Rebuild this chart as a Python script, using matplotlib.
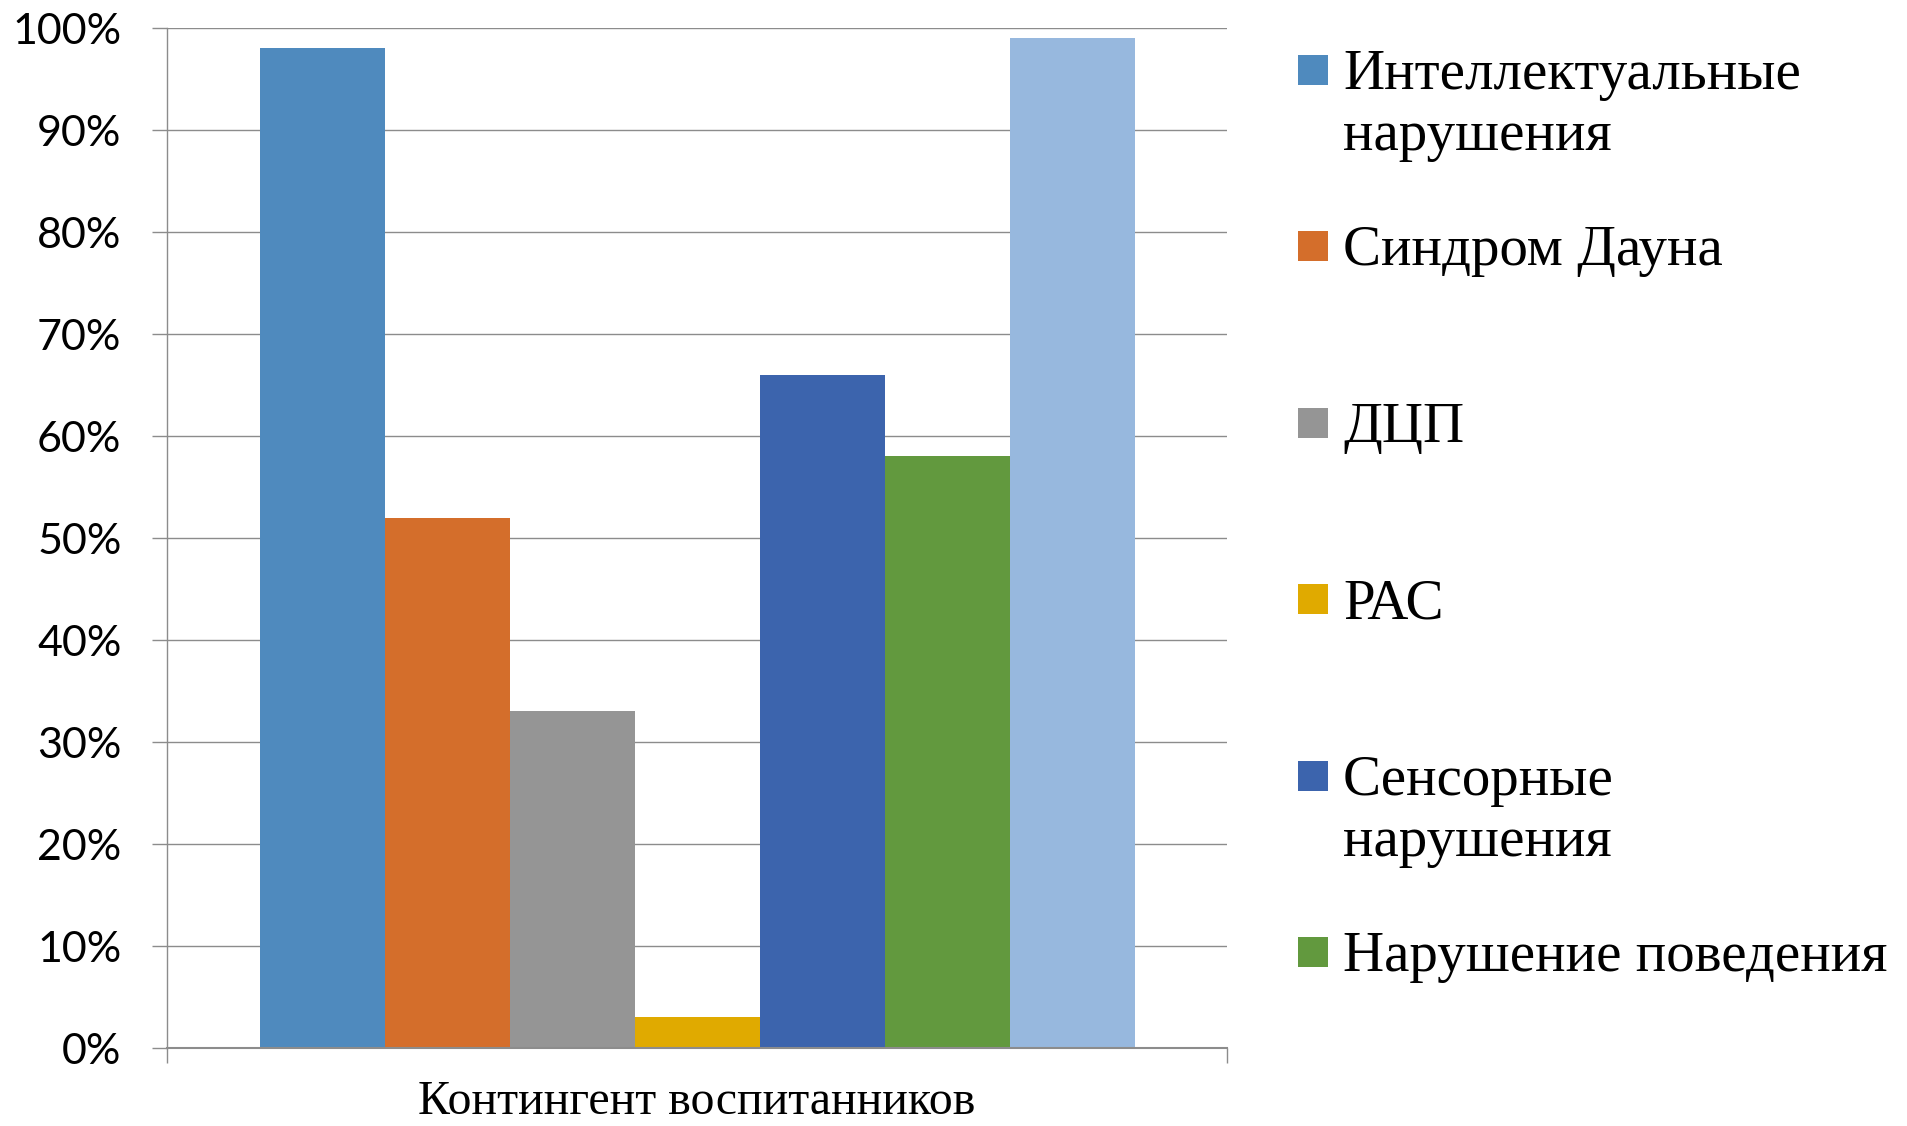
import matplotlib
matplotlib.use("Agg")
import matplotlib.pyplot as plt
from matplotlib.patches import Rectangle
from matplotlib.ticker import PercentFormatter

# data
category = "Контингент воспитанников"
values = [98, 52, 33, 3, 66, 58, 99]
colors = ["#4F8ABE", "#D46E2B", "#959595", "#E0AA00", "#3C64AD", "#62993E", "#97B8DE"]
legend_labels = [
    "Интеллектуальные\nнарушения",
    "Синдром Дауна",
    "ДЦП",
    "РАС",
    "Сенсорные\nнарушения",
    "Нарушение поведения",
]
yticks = [0, 10, 20, 30, 40, 50, 60, 70, 80, 90, 100]

W, H = 1908, 1126
fig = plt.figure(figsize=(W / 100, H / 100), dpi=100)
ax = fig.add_axes([167 / W, 1 - 1048 / H, (1227 - 167) / W, (1048 - 28) / H])

n = len(values)
bw = 125 / 1060
for i, (v, c) in enumerate(zip(values, colors)):
    x = (i - (n - 1) / 2) * bw
    ax.bar(x, v, width=bw, color=c, zorder=3, linewidth=0)

ax.set_xlim(-0.5, 0.5)
ax.set_ylim(0, 100)
ax.set_yticks(yticks)
ax.yaxis.set_major_formatter(PercentFormatter(decimals=0))
ax.set_xticks([-0.5, 0.5])
ax.set_xticklabels(["", ""])

grid_col = "#8C8C8C"
ax.yaxis.grid(True, color=grid_col, linewidth=1.0, zorder=0)
for s in ["top", "right"]:
    ax.spines[s].set_visible(False)
ax.spines["left"].set_color(grid_col)
ax.spines["left"].set_linewidth(1.0)
ax.spines["bottom"].set_color(grid_col)
ax.spines["bottom"].set_linewidth(1.5)
ax.spines["bottom"].set_zorder(4)

ax.tick_params(axis="y", length=10.8, width=1.0, color=grid_col, pad=22)
ax.tick_params(axis="x", length=10.8, width=1.0, color=grid_col)
for lab in ax.get_yticklabels():
    lab.set_fontfamily("Lato")
    lab.set_fontsize(31)

fig.text(697 / W, 1 - 1114 / H, category, ha="center", va="baseline",
         fontfamily="Liberation Serif", fontsize=34.5)

# legend (only six entries are visible in the original)
for i, (lab, c) in enumerate(zip(legend_labels, colors)):
    yc = 70 + i * 176.4
    fig.add_artist(Rectangle((1298 / W, 1 - (yc + 15) / H), 30 / W, 30 / H,
                             transform=fig.transFigure, color=c, linewidth=0))
    for j, line in enumerate(lab.split("\n")):
        fig.text(1343 / W, 1 - (yc + 19 + j * 61) / H, line, ha="left", va="baseline",
                 fontfamily="Liberation Serif", fontsize=41)

fig.savefig("out.png", dpi=100)
